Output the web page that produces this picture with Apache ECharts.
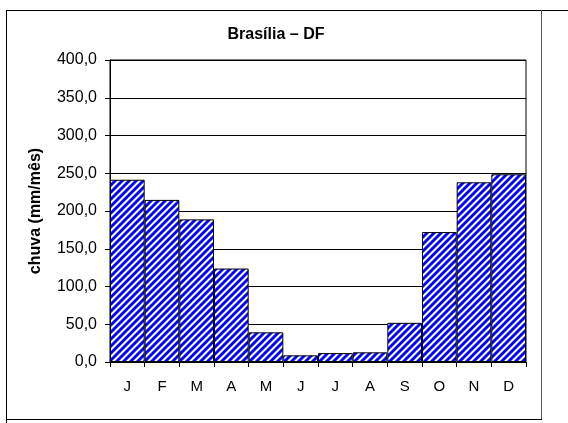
<!DOCTYPE html>
<html>
<head>
<meta charset="utf-8">
<script src="https://cdn.jsdelivr.net/npm/echarts@6/dist/echarts.min.js"></script>
<style>
html,body{margin:0;padding:0;background:#fff;}
#chart{width:568px;height:423px;}
</style>
</head>
<body>
<div id="chart"></div>
<script>
const months = ['J','F','M','A','M','J','J','A','S','O','N','D'];
const rainfall = [241.4, 214.7, 188.9, 123.8, 39.3, 8.8, 11.8, 12.8, 51.9, 172.1, 238.0, 248.6];
const titleText = 'Brasília – DF';
const yAxisName = 'chuva (mm/mês)';

// diagonal stripe pattern
const P = 7;
const tile = document.createElement('canvas');
tile.width = P; tile.height = P;
const tctx = tile.getContext('2d');
const img = tctx.createImageData(P, P);
for (let y = 0; y < P; y++) {
  for (let x = 0; x < P; x++) {
    const k = (x + y) % P;
    let r, g, b;
    if (k <= 2) { r = 0; g = 0; b = 255; }
    else if (k === 3 || k === 6) { r = 120; g = 120; b = 255; }
    else { r = 255; g = 255; b = 255; }
    const i = (y * P + x) * 4;
    img.data[i] = r; img.data[i+1] = g; img.data[i+2] = b; img.data[i+3] = 255;
  }
}
tctx.putImageData(img, 0, 0);

const chart = echarts.init(document.getElementById('chart'), null, {renderer: 'canvas'});
const font = '"Liberation Sans", Arial, sans-serif';
chart.setOption({
  backgroundColor: '#fff',
  animation: false,
  title: {
    text: titleText,
    left: 271, top: 22, textAlign: 'center',
    textStyle: {fontFamily: font, fontSize: 16, fontWeight: 'bold', color: '#000'}
  },
  grid: {left: 110, right: 42, top: 60, bottom: 61, show: true, borderColor: '#000', borderWidth: 1, backgroundColor: 'transparent'},
  xAxis: {
    type: 'category',
    data: months,
    axisLine: {lineStyle: {color: '#000', width: 1}},
    axisTick: {show: true, alignWithLabel: false, length: 5, lineStyle: {color: '#000'}},
    axisLabel: {fontFamily: font, fontSize: 15, color: '#000', margin: 17}
  },
  yAxis: {
    type: 'value',
    min: 0, max: 400, interval: 50,
    name: yAxisName,
    nameLocation: 'middle',
    nameGap: 66,
    nameRotate: 90,
    nameTextStyle: {fontFamily: font, fontSize: 16, fontWeight: 'bold', color: '#000'},
    axisLine: {show: true, lineStyle: {color: '#000', width: 1}},
    axisTick: {show: true, length: 5, lineStyle: {color: '#000'}},
    axisLabel: {fontFamily: font, fontSize: 16, color: '#000', margin: 13,
      formatter: v => v.toFixed(1).replace('.', ',')},
    splitLine: {show: true, lineStyle: {color: '#000', width: 1}}
  },
  series: [{
    type: 'bar',
    data: rainfall,
    barCategoryGap: '0%',
    itemStyle: {
      color: {image: tile, repeat: 'repeat'},
      borderColor: '#000',
      borderWidth: 1
    }
  }],
  graphic: [
    {type: 'line', shape: {x1: 6, y1: 10.5, x2: 568, y2: 10.5}, style: {stroke: '#000', lineWidth: 1}},
    {type: 'line', shape: {x1: 6.5, y1: 10, x2: 6.5, y2: 423}, style: {stroke: '#000', lineWidth: 1}},
    {type: 'line', shape: {x1: 541.5, y1: 10, x2: 541.5, y2: 419}, style: {stroke: '#555', lineWidth: 1}},
    {type: 'line', shape: {x1: 6, y1: 419.5, x2: 542, y2: 419.5}, style: {stroke: '#000', lineWidth: 1}}
  ]
});
</script>
</body>
</html>
